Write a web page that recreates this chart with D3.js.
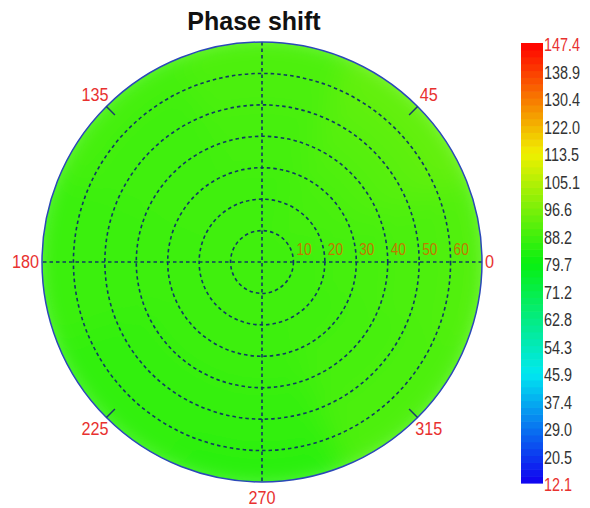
<!DOCTYPE html>
<html>
<head>
<meta charset="utf-8">
<script src="https://cdn.jsdelivr.net/npm/d3@7"></script>
<style>
  html, body { margin: 0; padding: 0; background: #fff; }
  svg { display: block; }
  text { font-family: "Liberation Sans", Arial, sans-serif; }
</style>
</head>
<body>
<svg id="chart" width="590" height="508"></svg>
<script>
// ---- data -------------------------------------------------------------
const title = "Phase shift";
const rMax = 70;                                  // outer radius of the polar axis
const ringTicks = [10, 20, 30, 40, 50, 60];        // dashed range rings
const angleLabels = [0, 45, 135, 180, 225, 270, 315];
const angleTicks = [45, 135, 225, 315];            // short marks on the rim
const spokes = [0, 90];                            // full diameters (0-180, 90-270)

// radial bin edges and angular sector centres of the phase field
const radialEdges = [0, 10, 20, 30, 40, 50, 60, 75];
const sectorCentres = [0, 45, 90, 135, 180, 225, 270, 315];
// phase shift (deg): one row per radial bin, one column per sector
const phaseRows = [
  [88.0, 88.0, 88.0, 88.0, 88.0, 88.0, 88.0, 88.0],
  [88.0, 88.5, 88.0, 88.0, 88.0, 88.0, 88.0, 88.0],
  [88.5, 89.0, 88.0, 88.0, 87.5, 87.5, 87.5, 88.0],
  [89.0, 90.0, 88.5, 88.0, 87.5, 87.0, 87.0, 88.5],
  [89.5, 91.0, 89.0, 88.0, 87.0, 86.5, 86.5, 89.0],
  [90.0, 92.0, 89.5, 88.0, 87.0, 86.0, 86.0, 89.5],
  [90.5, 93.0, 90.0, 88.5, 87.0, 86.0, 85.0, 90.0]
];

// colour bar labels, top to bottom
const cbTicks = [147.4, 138.9, 130.4, 122.0, 113.5, 105.1, 96.6, 88.2, 79.7,
                 71.2, 62.8, 54.3, 45.9, 37.4, 29.0, 20.5, 12.1];
const cbMin = 12.1, cbMax = 147.4;
const cbStops = ["#1000f0", "#00e8f0", "#08f010", "#f0f000", "#ff0000"];

// ---- layout -----------------------------------------------------------
const cx = 262, cy = 262, R = 220;
const svg = d3.select("#chart");

const r = d3.scaleLinear().domain([0, rMax]).range([0, R]);
const color = d3.scaleLinear()
  .domain(d3.range(cbStops.length).map(i => cbMin + i * (cbMax - cbMin) / (cbStops.length - 1)))
  .range(cbStops)
  .interpolate(d3.interpolateRgb)
  .clamp(true);

// polar angle (deg, counter-clockwise from east) -> screen point
const toXY = (deg, rad) => {
  const a = deg * Math.PI / 180;
  return [cx + rad * Math.cos(a), cy - rad * Math.sin(a)];
};

// squeeze label glyphs horizontally (narrow face)
function narrow(sel, k) {
  sel.each(function () {
    const w = this.getComputedTextLength();
    d3.select(this).attr("textLength", w * k).attr("lengthAdjust", "spacingAndGlyphs");
  });
}

// ---- defs ---------------------------------------------------------------
const defs = svg.append("defs");
defs.append("clipPath").attr("id", "disk")
  .append("circle").attr("cx", cx).attr("cy", cy).attr("r", R);
defs.append("filter").attr("id", "smooth")
  .attr("x", "-20%").attr("y", "-20%").attr("width", "140%").attr("height", "140%")
  .append("feGaussianBlur").attr("stdDeviation", 14);

// ---- phase field ----------------------------------------------------------
const cells = [];
phaseRows.forEach((row, i) => {
  row.forEach((v, j) => {
    cells.push({ r0: radialEdges[i], r1: radialEdges[i + 1], ang: sectorCentres[j], value: v });
  });
});

const arc = d3.arc();
const field = svg.append("g").attr("clip-path", "url(#disk)")
  .append("g").attr("filter", "url(#smooth)")
  .attr("transform", `translate(${cx},${cy})`);

// d3.arc angles run clockwise from north; polar angles run counter-clockwise from east
field.selectAll("path.cell").data(cells).join("path")
  .attr("class", "cell")
  .attr("d", d => arc({
    innerRadius: r(d.r0),
    outerRadius: r(d.r1),
    startAngle: (90 - d.ang - 22.5 - 0.5) * Math.PI / 180,
    endAngle: (90 - d.ang + 22.5 + 0.5) * Math.PI / 180
  }))
  .attr("fill", d => color(d.value))
  .attr("stroke", d => color(d.value))
  .attr("stroke-width", 1);

// ---- grid -----------------------------------------------------------------
const gridColor = "#0f3a62";
const grid = svg.append("g").attr("fill", "none").attr("stroke", gridColor)
  .attr("stroke-width", 1.6).attr("stroke-dasharray", "3.5,3");

grid.selectAll("circle").data(ringTicks).join("circle")
  .attr("cx", cx).attr("cy", cy).attr("r", d => r(d));

grid.selectAll("line").data(spokes).join("line")
  .attr("x1", d => toXY(d, R)[0]).attr("y1", d => toXY(d, R)[1])
  .attr("x2", d => toXY(d + 180, R)[0]).attr("y2", d => toXY(d + 180, R)[1]);

// rim
svg.append("circle").attr("cx", cx).attr("cy", cy).attr("r", R)
  .attr("fill", "none").attr("stroke", "#2a48b8").attr("stroke-width", 1.5);

// rim ticks
svg.append("g").selectAll("line").data(angleTicks).join("line")
  .attr("x1", d => toXY(d, R - 12)[0]).attr("y1", d => toXY(d, R - 12)[1])
  .attr("x2", d => toXY(d, R)[0]).attr("y2", d => toXY(d, R)[1])
  .attr("stroke", "#1a3f68").attr("stroke-width", 1.5);

// ring labels along the 0-degree spoke
svg.append("g").selectAll("text").data(ringTicks).join("text")
  .attr("x", d => cx + r(d) + 3)
  .attr("y", cy - 7)
  .attr("font-size", 16)
  .attr("fill", "#c07800")
  .text(d => d)
  .call(narrow, 0.85);

// angle labels
svg.append("g").selectAll("text").data(angleLabels).join("text")
  .each(function (d) {
    const horiz = Math.abs(Math.cos(d * Math.PI / 180)) > 0.99;
    const [x, y] = toXY(d, horiz ? 223 : 236);
    d3.select(this)
      .attr("x", x).attr("y", y)
      .attr("dy", "0.35em")
      .attr("text-anchor", horiz ? (d === 0 ? "start" : "end") : "middle");
  })
  .attr("font-size", 18)
  .attr("fill", "#e8312f")
  .text(d => d)
  .call(narrow, 0.9);

// title
svg.append("text")
  .attr("x", 254).attr("y", 30)
  .attr("text-anchor", "middle")
  .attr("font-weight", "bold")
  .attr("font-size", 25)
  .attr("fill", "#111")
  .text(title);

// ---- colour bar ------------------------------------------------------------
const cbX = 521, cbW = 22, cbTop = 43, cbBottom = 483;
const cbY = d3.scaleLinear().domain([cbMin, cbMax]).range([cbBottom, cbTop]);
const nBands = 64;
const bands = d3.range(nBands).map(i => cbMin + (i + 0.5) * (cbMax - cbMin) / nBands);
svg.append("g").selectAll("rect").data(bands).join("rect")
  .attr("x", cbX).attr("width", cbW)
  .attr("y", d => cbY(d + (cbMax - cbMin) / nBands / 2))
  .attr("height", (cbBottom - cbTop) / nBands + 0.6)
  .attr("fill", d => color(d));

const cbAxis = svg.append("g");
cbAxis.selectAll("text").data(cbTicks).join("text")
  .attr("x", cbX + cbW + 1)
  .attr("y", (d, i) => cbTop + 2 + i * (cbBottom - cbTop) / (cbTicks.length - 1))
  .attr("dy", "0.35em")
  .attr("font-size", 18)
  .attr("fill", (d, i) => (i === 0 || i === cbTicks.length - 1) ? "#e8312f" : "#333")
  .text(d => d.toFixed(1))
  .call(narrow, 0.8);
</script>
</body>
</html>
